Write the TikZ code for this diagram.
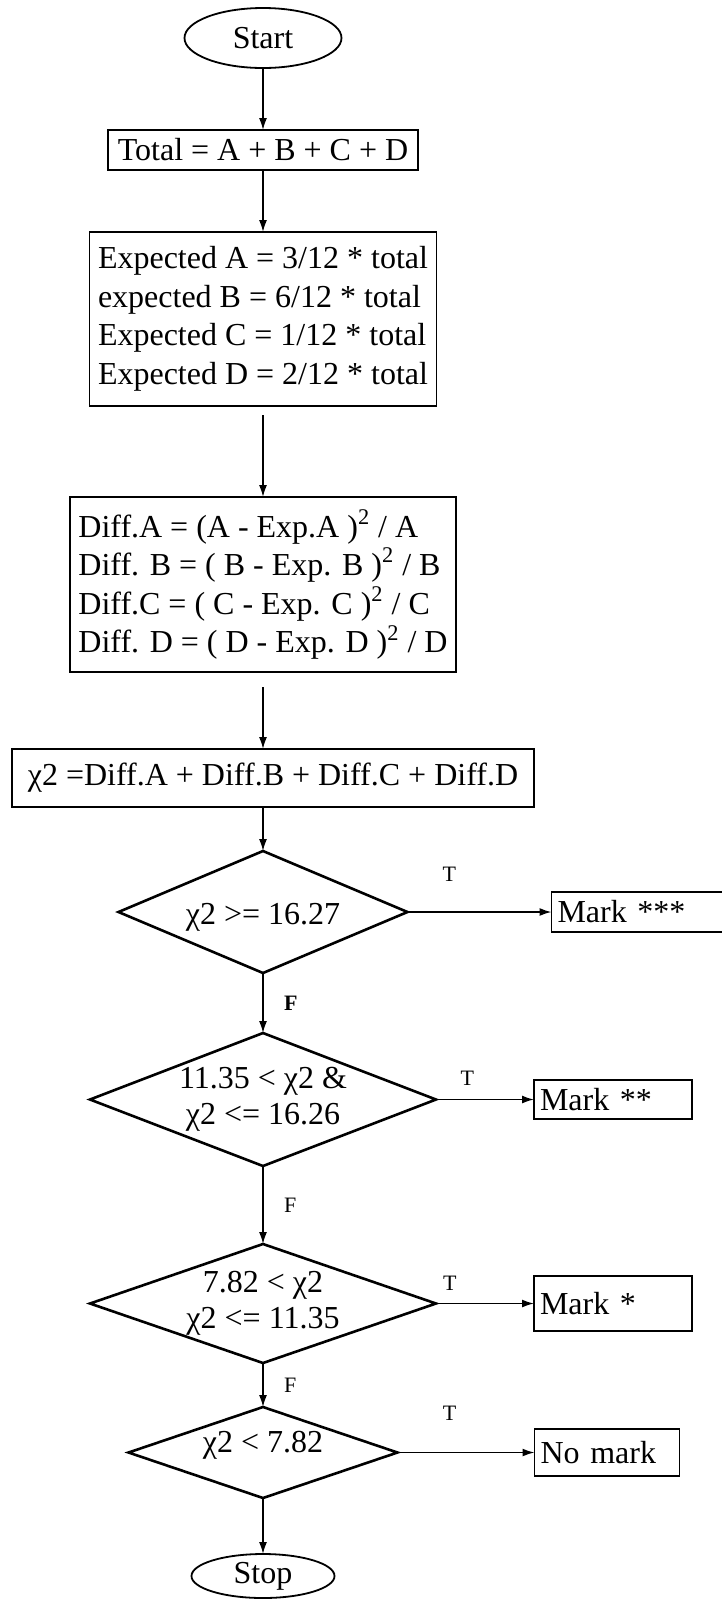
\documentclass[tikz,border=0pt]{standalone}
\usepackage{fontspec}
\setmainfont{Liberation Serif}
\usetikzlibrary{arrows.meta, positioning, shapes.geometric}

\begin{document}
\begin{tikzpicture}[
        node distance=30pt,
        font=\fontsize{16}{19.25}\selectfont,
        every node/.style={outer sep=0pt},
        term/.style={ellipse, draw, line width=0.9pt, inner sep=0pt},
        proc/.style={rectangle, draw, line width=0.9pt, align=left,
                    inner xsep=2.5pt, inner ysep=4pt},
        cond/.style={diamond, draw, line width=1.3pt, inner sep=-4pt,
                    align=center, font=\fontsize{16}{18}\selectfont},
        outbox/.style={rectangle, draw, line width=0.9pt, align=left,
                    inner xsep=3pt, inner ysep=2pt},
        flow/.style={-{Latex[length=6pt,width=4pt]}, line width=0.8pt},
        lbl/.style={font=\fontsize{11}{13}\selectfont, inner sep=0.5pt}
      ]
        \useasboundingbox (0,0) rectangle (361pt,-801pt);

        % main column
        \node[term, minimum width=78.5pt, minimum height=30pt] (start) at (131.5pt,-19pt) {Start};
        \node[proc, below=31pt of start, minimum width=155pt, minimum height=20pt] (total)
            {Total = A + B + C + D};
        \node[proc, below=31pt of total, minimum width=173.5pt, minimum height=87pt] (expct)
            {Expected A = 3/12 * total\\
             expected B = 6/12 * total\\
             Expected C = 1/12 * total\\
             Expected D = 2/12 * total};
        \node[proc, below=45.5pt of expct, minimum width=193pt, minimum height=87.5pt] (diff)
            {Diff.A = (A - Exp.A )\textsuperscript{2} / A\\
             Diff. B = ( B - Exp. B )\textsuperscript{2} / B\\
             Diff.C = ( C - Exp. C )\textsuperscript{2} / C\\
             Diff. D = ( D - Exp. D )\textsuperscript{2} / D};
        \node[proc, below=38.5pt of diff, xshift=5pt, minimum width=261pt, minimum height=29pt] (chisq)
            {χ2 =Diff.A + Diff.B + Diff.C + Diff.D};

        % decisions
        \node[cond, below=22pt of chisq, xshift=-5pt, aspect=2.4, text height=16pt,
              minimum width=144.5pt, minimum height=61pt] (d1) {χ2 >= 16.27};
        \node[cond, below=30pt of d1, aspect=2.6,
              minimum width=173pt, minimum height=66.5pt] (d2) {11.35 < χ2 \&\\χ2 <= 16.26};
        \node[cond, below=39pt of d2, aspect=2.9,
              minimum width=173pt, minimum height=59.5pt] (d3) {7.82 < χ2\\χ2 <= 11.35};
        \node[cond, below=22pt of d3, aspect=3, text depth=11pt,
              minimum width=134.5pt, minimum height=45.5pt] (d4) {χ2 < 7.82};
        \node[term, below=28pt of d4, minimum width=71.5pt, minimum height=22pt] (stop) {Stop};

        % results
        \node[outbox, right=72pt of d1, text width=84pt, minimum height=20pt] (m3) {Mark ***};
        \node[outbox, right=49pt of d2, text width=73pt, minimum height=19.5pt] (m2) {Mark **};
        \node[outbox, right=49pt of d3, text width=73pt, minimum height=27.5pt] (m1) {Mark *};
        \node[outbox, right=68.5pt of d4, text width=66.5pt, minimum height=23.5pt] (nomark) {No mark};

        % connectors
        \draw[flow] (start) -- (total);
        \draw[flow] (total) -- (expct);
        \draw[flow, shorten <=4.5pt] (expct) -- (diff);
        \draw[flow, shorten <=7.5pt] (diff) -- (diff |- chisq.north);
        \draw[flow] (chisq.south -| d1) -- (d1);
        \draw[flow] (d1) -- node[lbl, right=10pt, font=\fontsize{11}{13}\selectfont\bfseries] {F} (d2);
        \draw[flow] (d2) -- node[lbl, right=10pt] {F} (d3);
        \draw[flow] (d3) -- node[lbl, right=10pt] {F} (d4);
        \draw[flow] (d4) -- (stop);
        \draw[flow] (d1) -- node[lbl, pos=0.29, above=15pt] {T} (m3);
        \draw[flow] (d2) -- node[lbl, pos=0.32, above=6.5pt] {T} (m2);
        \draw[flow] (d3) -- node[lbl, pos=0.14, above=6pt] {T} (m1);
        \draw[flow] (d4) -- node[lbl, pos=0.38, above=15.5pt] {T} (nomark);
      \end{tikzpicture}
\end{document}
